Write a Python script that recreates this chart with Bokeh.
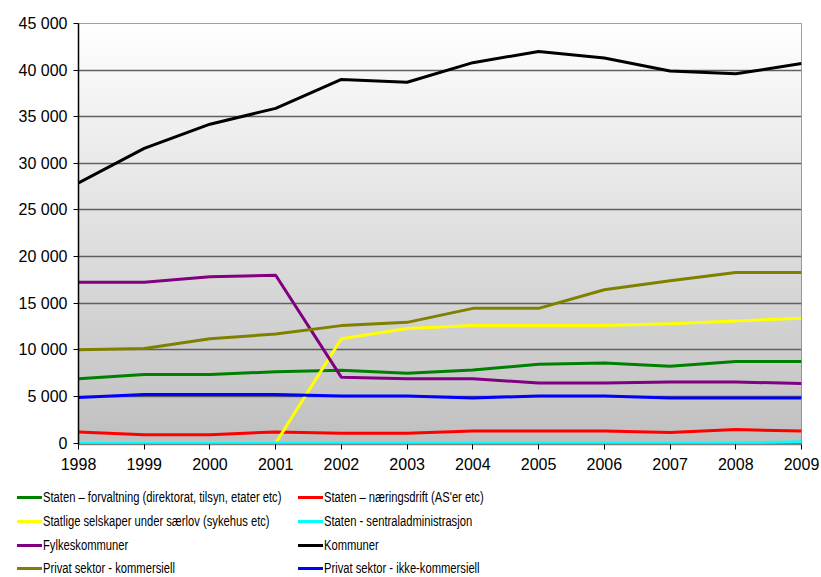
import html
import numpy as np
from bokeh.plotting import figure
from bokeh.layouts import column
from bokeh.models import CustomJSTickFormatter, FixedTicker, Range1d, Div
from bokeh.embed import file_html
from bokeh.resources import INLINE

years = [1998, 1999, 2000, 2001, 2002, 2003, 2004, 2005, 2006, 2007, 2008, 2009]

staten_forvaltning = [6900, 7350, 7350, 7650, 7800, 7500, 7850, 8450, 8600, 8250, 8750, 8750]
staten_naering = [1200, 900, 900, 1200, 1050, 1050, 1300, 1300, 1300, 1150, 1450, 1300]
statlige_selskaper = [0, 0, 0, 0, 11200, 12300, 12600, 12600, 12600, 12800, 13100, 13400]
staten_sentral = [0, 0, 0, 0, 0, 0, 0, 0, 0, 0, 0, 150]
fylkeskommuner = [17250, 17250, 17850, 18000, 7050, 6900, 6900, 6450, 6450, 6550, 6550, 6400]
kommuner = [27900, 31600, 34200, 35900, 39000, 38700, 40800, 42000, 41300, 39900, 39600, 40700]
privat_kommersiell = [10000, 10150, 11200, 11700, 12600, 12950, 14450, 14450, 16450, 17400, 18300, 18300]
privat_ikke = [4900, 5200, 5200, 5200, 5050, 5050, 4850, 5050, 5050, 4850, 4850, 4850]

labels = [
    "Staten \u2013 forvaltning (direktorat, tilsyn, etater etc)",
    "Staten \u2013 n\u00e6ringsdrift (AS'er etc)",
    "Statlige selskaper under s\u00e6rlov (sykehus etc)",
    "Staten - sentraladministrasjon",
    "Fylkeskommuner",
    "Kommuner",
    "Privat sektor - kommersiell",
    "Privat sektor - ikke-kommersiell",
]
series = [staten_forvaltning, staten_naering, statlige_selskaper, staten_sentral,
          fylkeskommuner, kommuner, privat_kommersiell, privat_ikke]
colors = ["#008000", "#ff0000", "#ffff00", "#00ffff", "#800080", "#000000", "#808000", "#0000ff"]

y_ticks = [0, 5000, 10000, 15000, 20000, 25000, 30000, 35000, 40000, 45000]
y_min, y_max = -150, 45000
x_min, x_max = years[0], years[-1]

W = 821
H_LEG = 99

p = figure(frame_width=723, frame_height=421, output_backend="svg", toolbar_location=None,
           x_range=Range1d(x_min, x_max), y_range=Range1d(y_min, y_max),
           min_border_left=78, min_border_right=20, min_border_top=23, min_border_bottom=34)
p.outline_line_color = "#808080"
p.outline_line_width = 1
p.background_fill_color = "#e0e0e0"
p.border_fill_color = "white"

# vertical gradient background (white at top to gray at bottom)
n = 256
grad = np.linspace(255, 192, n)[::-1]  # row 0 = bottom
img = np.zeros((n, 1), dtype=np.uint32)
view = img.view(dtype=np.uint8).reshape((n, 1, 4))
view[:, 0, 0] = grad.astype(np.uint8)
view[:, 0, 1] = grad.astype(np.uint8)
view[:, 0, 2] = grad.astype(np.uint8)
view[:, 0, 3] = 255
p.image_rgba(image=[img], x=x_min, y=y_min, dw=x_max - x_min, dh=y_max - y_min, level="image")

p.xgrid.visible = False
p.ygrid.grid_line_color = "#606060"
p.ygrid.grid_line_width = 1.5
p.ygrid.level = "underlay"
p.ygrid.ticker = FixedTicker(ticks=y_ticks)

p.yaxis.ticker = FixedTicker(ticks=y_ticks)
p.yaxis.formatter = CustomJSTickFormatter(
    code="return tick.toString().replace(/\\B(?=(\\d{3})+(?!\\d))/g, ' ');")
p.xaxis.ticker = FixedTicker(ticks=years)
for ax in (p.xaxis[0], p.yaxis[0]):
    ax.axis_line_color = "#000000"
    ax.axis_line_width = 1.5
    ax.major_tick_line_color = "#000000"
    ax.major_tick_in = 0
    ax.major_tick_out = 5
    ax.minor_tick_line_color = None
    ax.major_label_text_font = "Liberation Sans"
    ax.major_label_text_color = "#000000"
p.xaxis.axis_line_color = "#808080"
p.yaxis.major_label_text_font_size = "16px"
p.xaxis.major_label_text_font_size = "16px"
p.yaxis.major_label_standoff = 6
p.xaxis.major_label_standoff = 8

for ys, c in zip(series, colors):
    p.line(years, ys, line_color=c, line_width=3)

# legend block below the chart: 2 columns x 4 rows
col_x = [17, 298]
row_y = [19, 43, 67, 90]
parts = ['<div style="position:relative;width:%dpx;height:%dpx;'
         "font-family:'Liberation Sans',Arial,sans-serif;font-size:14px;color:#000;\">" % (W, H_LEG)]
for i, (lab, c) in enumerate(zip(labels, colors)):
    cx = col_x[i % 2]
    cy = row_y[i // 2]
    parts.append('<div style="position:absolute;left:%dpx;top:%.1fpx;width:25px;height:3px;'
                 'background:%s;"></div>' % (cx, cy - 1.5, c))
    parts.append('<div style="position:absolute;left:%dpx;top:%dpx;line-height:16px;'
                 'white-space:nowrap;transform:scaleX(0.8);transform-origin:0 50%%;">%s</div>'
                 % (cx + 26, cy - 8, html.escape(lab)))
parts.append("</div>")
leg = Div(text="".join(parts), width=W, height=H_LEG, margin=0)

layout = column(p, leg, spacing=0)
open("out.html", "w").write(file_html(layout, INLINE))
